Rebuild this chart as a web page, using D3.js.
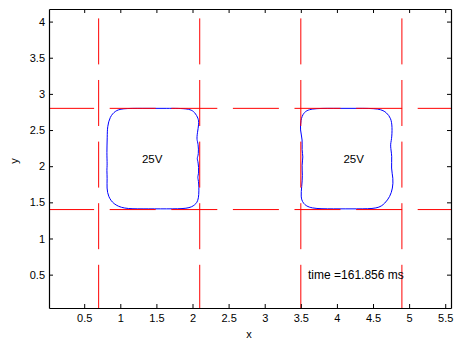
<!DOCTYPE html>
<html>
<head>
<meta charset="utf-8">
<script src="https://cdn.jsdelivr.net/npm/d3@7"></script>
<style>
  html, body { margin: 0; padding: 0; background: #fff; }
  svg { display: block; }
  text { font-family: "Liberation Sans", Arial, Helvetica, sans-serif; fill: #000; }
</style>
</head>
<body>
<svg id="chart" width="456" height="343"></svg>
<script>
// Axis ticks
const xTicks = [0.5, 1, 1.5, 2, 2.5, 3, 3.5, 4, 4.5, 5, 5.5];
const yTicks = [0.5, 1, 1.5, 2, 2.5, 3, 3.5, 4];

// Electrode guide lines (dashed red)
const vLines = [0.7, 2.1, 3.5, 4.9];
const hLines = [1.4, 2.8];

// 25 V equipotential contour around the left electrode
const leftX = [1.019, 1.300, 1.650, 1.965, 2.035, 2.080, 2.090, 2.066, 2.058, 2.080, 2.086, 2.058, 2.080, 2.090,
               2.066, 2.090, 2.090, 2.035, 1.942, 1.650, 1.300, 1.042, 0.903, 0.834, 0.812, 0.820, 0.812, 0.820,
               0.812, 0.820, 0.820, 0.857, 0.927];
const leftY = [2.800, 2.800, 2.800, 2.800, 2.740, 2.663, 2.593, 2.455, 2.362, 2.317, 2.155, 2.109, 2.062, 1.902,
               1.846, 1.786, 1.532, 1.463, 1.410, 1.410, 1.410, 1.410, 1.477, 1.578, 1.694, 1.833, 1.947, 2.017,
               2.178, 2.408, 2.546, 2.685, 2.763];

// 25 V equipotential contour around the right electrode
const rightX = [3.627, 3.950, 4.280, 4.597, 4.690, 4.749, 4.767, 4.759, 4.735, 4.767, 4.749, 4.781, 4.773, 4.735,
                4.666, 4.573, 4.280, 3.950, 3.627, 3.526, 3.499, 3.512, 3.526, 3.512, 3.535, 3.512, 3.526, 3.489,
                3.499, 3.535];
const rightY = [2.800, 2.800, 2.800, 2.800, 2.740, 2.663, 2.546, 2.362, 2.293, 2.131, 1.971, 1.833, 1.694, 1.578,
                1.487, 1.410, 1.410, 1.410, 1.410, 1.487, 1.578, 1.716, 1.878, 2.017, 2.131, 2.224, 2.362, 2.501,
                2.639, 2.740];

// Contour labels
const labelText = ["25V", "25V"];
const labelX = [1.30, 4.09];
const labelY = [2.10, 2.10];

// Time stamp
const timeLabel = "time =161.856 ms";
const timeX = 3.6;
const timeY = 0.5;

const svg = d3.select("#chart");
const W = 456, H = 343;
const box = { left: 49, right: 451, top: 9, bottom: 308 };

const x = d3.scaleLinear().domain([0.0125, 5.58]).range([box.left, box.right]);
const y = d3.scaleLinear().domain([0.0387, 4.174]).range([box.bottom, box.top]);

svg.append("rect").attr("width", W).attr("height", H).attr("fill", "#fff");

svg.append("defs").append("clipPath").attr("id", "plotClip")
  .append("rect")
  .attr("x", box.left).attr("y", box.top)
  .attr("width", box.right - box.left).attr("height", box.bottom - box.top);

const plot = svg.append("g").attr("clip-path", "url(#plotClip)");

// Contours (B-spline keeps the flat edges flat)
const line = d3.line().x(d => x(d[0])).y(d => y(d[1])).curve(d3.curveBasisClosed);
const contours = [d3.zip(leftX, leftY), d3.zip(rightX, rightY)];
plot.selectAll("path.contour").data(contours).join("path")
  .attr("class", "contour")
  .attr("d", line)
  .attr("fill", "none")
  .attr("stroke", "#0000ff")
  .attr("stroke-width", 1);

// Dashed guide lines
const dash = "46 15.6";
plot.selectAll("line.v").data(vLines).join("line")
  .attr("class", "v")
  .attr("x1", d => x(d)).attr("x2", d => x(d))
  .attr("y1", y(0)).attr("y2", y(4.2))
  .attr("stroke", "#ff0000").attr("stroke-width", 1)
  .attr("stroke-dasharray", dash);
plot.selectAll("line.h").data(hLines).join("line")
  .attr("class", "h")
  .attr("x1", x(0)).attr("x2", x(5.6))
  .attr("y1", d => y(d)).attr("y2", d => y(d))
  .attr("stroke", "#ff0000").attr("stroke-width", 1)
  .attr("stroke-dasharray", dash);

// Labels
plot.selectAll("text.lbl").data(labelText).join("text")
  .attr("class", "lbl")
  .attr("x", (d, i) => x(labelX[i]))
  .attr("y", (d, i) => y(labelY[i]))
  .attr("dy", "0.35em")
  .attr("font-size", 11.5)
  .text(d => d);

plot.append("text")
  .attr("x", x(timeX)).attr("y", y(timeY))
  .attr("dy", "0.35em")
  .attr("font-size", 12)
  .text(timeLabel);

// Axes (box with inward ticks on all sides)
function styleAxis(g) {
  g.selectAll("path.domain").attr("stroke", "#000").attr("stroke-width", 1.2);
  g.selectAll(".tick line").attr("stroke", "#000");
  g.selectAll(".tick text").attr("font-size", 11)
    .attr("font-family", "Liberation Sans, Arial, Helvetica, sans-serif").attr("fill", "#000");
}

svg.append("g").attr("transform", `translate(0,${box.bottom})`)
  .call(d3.axisBottom(x).tickValues(xTicks).tickFormat(d3.format("")).tickSizeInner(-4).tickSizeOuter(0).tickPadding(6))
  .call(styleAxis);
svg.append("g").attr("transform", `translate(0,${box.top})`)
  .call(d3.axisTop(x).tickValues(xTicks).tickFormat("").tickSizeInner(-4).tickSizeOuter(0))
  .call(styleAxis);
svg.append("g").attr("transform", `translate(${box.left},0)`)
  .call(d3.axisLeft(y).tickValues(yTicks).tickFormat(d3.format("")).tickSizeInner(-4).tickSizeOuter(0).tickPadding(4))
  .call(styleAxis);
svg.append("g").attr("transform", `translate(${box.right},0)`)
  .call(d3.axisRight(y).tickValues(yTicks).tickFormat("").tickSizeInner(-4).tickSizeOuter(0))
  .call(styleAxis);

// Axis titles
svg.append("text").attr("x", 249).attr("y", 338).attr("text-anchor", "middle")
  .attr("font-size", 11).text("x");
svg.append("text").attr("transform", "translate(18,161) rotate(-90)").attr("text-anchor", "middle")
  .attr("font-size", 11).text("y");
</script>
</body>
</html>
